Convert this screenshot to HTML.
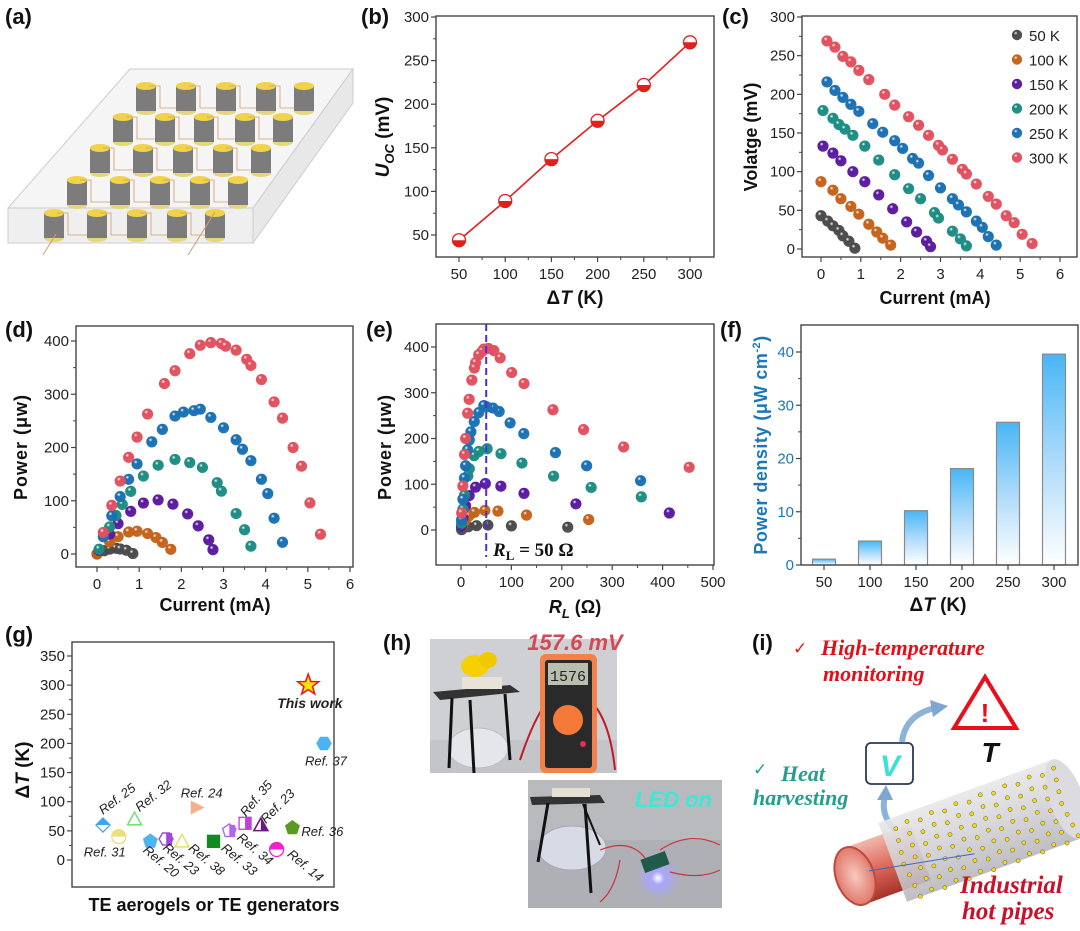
<!DOCTYPE html>
<html><head><meta charset="utf-8"><style>
html,body{margin:0;padding:0;background:#fff;}
svg{display:block;font-family:"Liberation Sans",Arial,sans-serif;}
</style></head><body>
<svg id="fig" width="1080" height="931" viewBox="0 0 1080 931" xmlns="http://www.w3.org/2000/svg">
<defs id="defs">
<linearGradient id="barGrad" x1="0" y1="0" x2="0" y2="1"><stop offset="0" stop-color="#48b6f6"/><stop offset="0.55" stop-color="#b5defa"/><stop offset="1" stop-color="#ffffff"/></linearGradient>
<linearGradient id="pipeGrad" x1="0" y1="0" x2="0" y2="1"><stop offset="0" stop-color="#f3b7ad"/><stop offset="0.5" stop-color="#dd6a5c"/><stop offset="1" stop-color="#a8322a"/></linearGradient>
<radialGradient id="pipeEnd" cx="0.5" cy="0.5" r="0.5"><stop offset="0" stop-color="#f7c9c0"/><stop offset="1" stop-color="#e07a6c"/></radialGradient>
<linearGradient id="sleeveGrad" x1="0" y1="0" x2="0" y2="1"><stop offset="0" stop-color="#e8e8ea"/><stop offset="0.5" stop-color="#d2d2d6"/><stop offset="1" stop-color="#b8b8bc"/></linearGradient>
<radialGradient id="ledGlow" cx="0.5" cy="0.5" r="0.5"><stop offset="0" stop-color="#ffffff"/><stop offset="0.3" stop-color="#a9a4ff"/><stop offset="1" stop-color="#a9a4ff" stop-opacity="0"/></radialGradient>
</defs>
</svg>
<script>
// ---------- DATA ----------
const bDeltaT = [50,100,150,200,250,300];
const bUoc = [44,89,137,181,222,271];
const bXTicks = [50,100,150,200,250,300];
const bYTicks = [50,100,150,200,250,300];

const seriesLabels = ['50 K','100 K','150 K','200 K','250 K','300 K'];
const cur50 = [0,0.17,0.3,0.45,0.55,0.7,0.85];
const volt50 = [43,36,30,24,17,10,1];
const cur100 = [0,0.3,0.5,0.75,0.95,1.2,1.4,1.55,1.75];
const volt100 = [87,76,65,55,45,32,22,14,5];
const cur150 = [0.05,0.3,0.5,0.8,1.1,1.45,1.8,2.15,2.4,2.65,2.75];
const volt150 = [133,124,114,100,87,70,52,35,22,10,3];
const cur200 = [0.05,0.3,0.45,0.6,0.8,1.1,1.45,1.85,2.2,2.5,2.85,2.95,3.3,3.5,3.65];
const volt200 = [179,169,161,155,147,133,115,96,78,65,47,40,23,13,4];
const cur250 = [0.15,0.35,0.55,0.75,0.95,1.3,1.55,1.85,2.05,2.3,2.45,2.7,3.0,3.3,3.45,3.65,3.9,4.05,4.2,4.4];
const volt250 = [216,205,196,187,178,162,151,140,130,117,111,95,79,65,57,48,36,28,16,5];
const cur300 = [0.15,0.35,0.55,0.75,0.95,1.2,1.6,1.85,2.2,2.45,2.7,2.95,3.05,3.3,3.55,3.65,3.9,4.2,4.4,4.65,4.85,5.05,5.3];
const volt300 = [269,261,249,242,231,219,200,186,171,160,147,134,128,116,103,97,84,68,58,43,34,19,7];
const cXTicks = [0,1,2,3,4,5,6];
const cYTicks = [0,50,100,150,200,250,300];
const dXTicks = [0,1,2,3,4,5,6];
const dYTicks = [0,100,200,300,400];
const eXTicks = [0,100,200,300,400,500];
const eYTicks = [0,100,200,300,400];
const eOptimalR = 50;

const fDeltaT = [50,100,150,200,250,300];
const fDensity = [1.1,4.5,10.2,18.1,26.8,39.6];
const fXTicks = [50,100,150,200,250,300];
const fYTicks = [0,10,20,30,40];

const gRefs = ['Ref. 25','Ref. 31','Ref. 32','Ref. 20','Ref. 23','Ref. 38','Ref. 24','Ref. 33','Ref. 34','Ref. 35','Ref. 23','Ref. 14','Ref. 36','This work','Ref. 37'];
const gDeltaT = [60,40,70,32,36,32,90,32,50,63,60,18,55,300,200];
const gYTicks = [0,50,100,150,200,250,300,350];

// ---------- STYLE ----------
const seriesColors = ['#4a4a4a','#c4621a','#5a1a9e','#1c8c82','#1a70b2','#e0505e'];
const gShapes = ['diamond','circle','triangle','pentagon','hexagon','triangle','rtri','square','pentagon','square','triangle','circle','pentagon','star','hexagon'];
const gColors = ['#3aa6ef','#e8e07a','#7be07b','#4cb4f0','#9b49e0','#e8e07a','#f4b08a','#138a20','#b066f0','#c040d8','#6a1a80','#f020d0','#5a9a22','#ff2020','#4cb4f0'];
// label: [dx, dy, rotation]
const gLabelPos = [[0,-10,-37],[-35,20,0],[5,-7,-38],[-8,10,40],[-4,10,40],[6,8,40],[-17,-10,0],[7,8,40],[7,8,40],[1,-6,-50],[5,-1,-45],[10,6,40],[9,8,0],[-31,23,0],[-19,22,0]];

const NS='http://www.w3.org/2000/svg';
const svg=document.getElementById('fig');
const defs=document.getElementById('defs');
function mk(tag,attrs,parent){const e=document.createElementNS(NS,tag);for(const k in attrs)e.setAttribute(k,attrs[k]);(parent||svg).appendChild(e);return e;}
function lin(d0,d1,p0,p1){return v=>p0+(v-d0)*(p1-p0)/(d1-d0);}
function txt(s,x,y,attrs,parent){const t=mk('text',Object.assign({x:x,y:y},attrs),parent);t.textContent=s;return t;}

seriesColors.forEach((c,i)=>{
  const g=mk('radialGradient',{id:'ball'+i,cx:'0.38',cy:'0.32',r:'0.7'},defs);
  mk('stop',{offset:'0','stop-color':'#ffffff'},g);
  mk('stop',{offset:'0.25','stop-color':c},g);
  mk('stop',{offset:'1','stop-color':c,'stop-opacity':'0.95'},g);
});

function panelLabel(s,x,y){
  const t=txt(s,x,y,{'font-size':22,'font-weight':'bold',fill:'#111'});
  
  
}

function axes(g,fr,xs,ys,xt,yt,xminor,yminor){
  const r=mk('rect',{x:fr.l,y:fr.t,width:fr.r-fr.l,height:fr.b-fr.t,fill:'none',stroke:'#444','stroke-width':1.4},g);
  
  
  if(xt){xt.forEach(v=>{const x=xs(v);
    mk('line',{x1:x,x2:x,y1:fr.b,y2:fr.b+5,stroke:'#444','stroke-width':1.2},g);
    const t=txt(String(v),x,fr.b+22,{'font-size':15,'text-anchor':'middle',fill:'#222'},g);
    
    
  });
  if(xminor){for(let i=0;i<xt.length-1;i++){const x=xs((xt[i]+xt[i+1])/2);mk('line',{x1:x,x2:x,y1:fr.b,y2:fr.b+3,stroke:'#444','stroke-width':1},g);}}}
  yt.forEach(v=>{const y=ys(v);
    mk('line',{x1:fr.l-5,x2:fr.l,y1:y,y2:y,stroke:'#444','stroke-width':1.2},g);
    const t=txt(String(v),fr.l-7,y+5,{'font-size':15,'text-anchor':'end',fill:g.dataset.ytickcolor||'#222'},g);
    
    
  });
  if(yminor){for(let i=0;i<yt.length-1;i++){const y=ys((yt[i]+yt[i+1])/2);mk('line',{x1:fr.l-3,x2:fr.l,y1:y,y2:y,stroke:'#444','stroke-width':1},g);}}
}

function ball(g,x,y,ci,r){return mk('circle',{cx:x,cy:y,r:r||5.6,fill:'url(#ball'+ci+')'},g);}

const curs=[cur50,cur100,cur150,cur200,cur250,cur300];
const volts=[volt50,volt100,volt150,volt200,volt250,volt300];

// ---------- (a) ----------
(function(){
  const g=mk('g',{});
  
  
  panelLabel('(a)',5,24);
  mk('polygon',{points:'130,69 353,69 253,208 8,208',fill:'#f5f5f5',stroke:'#cccccc'},g);
  mk('polygon',{points:'8,208 253,208 253,243 8,243',fill:'#efefef',stroke:'#cccccc'},g);
  mk('polygon',{points:'253,208 353,69 353,103 253,243',fill:'#e8e8e8',stroke:'#cccccc'},g);
  const rows=[[146,186,226,266,304,86],[123,165,204,245,283,117],[100,143,183,223,261,148],[77,120,160,200,238,180],[54,97,137,177,215,213]];
  rows.forEach(row=>{
    for(let i=0;i<5;i++){
      const x=row[i],y=row[5];
      const cg=mk('g',{},g);
      
      
      mk('ellipse',{cx:x,cy:y+25,rx:10,ry:4,fill:'#e6d67a'},cg);
      mk('rect',{x:x-10,y:y,width:20,height:25,fill:'#7c7c7c'},cg);
      mk('ellipse',{cx:x,cy:y,rx:10,ry:4,fill:'#f0d34a'},cg);
      if(i<4) mk('polyline',{points:`${x+3},${y} ${x+14},${y} ${x+14},${y+22} ${row[i+1]-4},${y+22}`,fill:'none',stroke:'#d79a6a','stroke-width':0.8},g);
    }
  });
  mk('line',{x1:43,y1:255,x2:56,y2:234,stroke:'#d79a6a','stroke-width':1},g);
  mk('line',{x1:188,y1:255,x2:215,y2:212,stroke:'#d79a6a','stroke-width':1},g);
})();

// ---------- (b) ----------
(function(){
  const g=mk('g',{});
  
  
  panelLabel('(b)',361,24);
  const fr={l:436,r:714,t:16,b:257};
  const xs=lin(50,300,459,690), ys=lin(50,300,235,17);
  axes(g,fr,xs,ys,bXTicks,bYTicks,true,true);
  const pts=bDeltaT.map((v,i)=>xs(v)+','+ys(bUoc[i])).join(' ');
  const ln=mk('polyline',{points:pts,fill:'none',stroke:'#e0201c','stroke-width':1.6},g);
  
  
  bDeltaT.forEach((v,i)=>{
    const x=xs(v),y=ys(bUoc[i]);
    const m=mk('g',{},g);
    
    
    mk('circle',{cx:x,cy:y,r:6.5,fill:'#fff',stroke:'#e0201c','stroke-width':1.3},m);
    mk('path',{d:`M${x-6.5},${y} A6.5,6.5 0 0 0 ${x+6.5},${y} Z`,fill:'#e0201c'},m);
  });
  const xt=txt('',575,304,{'font-size':19,'font-weight':'bold','text-anchor':'middle',fill:'#111'},g);
  xt.innerHTML='Δ<tspan font-style="italic">T</tspan> (K)';
  
  
  const yt=txt('',389,137,{'font-size':19,'font-weight':'bold','text-anchor':'middle',fill:'#111',transform:'rotate(-90 389 137)'},g);
  yt.innerHTML='<tspan font-style="italic">U</tspan><tspan font-style="italic" font-size="13" dy="5">OC</tspan><tspan dy="-5"> (mV)</tspan>';
  
  
})();

// ---------- (c) ----------
(function(){
  const g=mk('g',{});
  
  
  panelLabel('(c)',722,24);
  const fr={l:802,r:1077,t:16,b:257};
  const xs=lin(0,6,821,1060), ys=lin(0,300,249,17);
  axes(g,fr,xs,ys,cXTicks,cYTicks,true,true);
  curs.forEach((cs,si)=>{cs.forEach((c,i)=>{
    const b=ball(g,xs(c),ys(volts[si][i]),si);
    
    
  });});
  seriesLabels.forEach((s,i)=>{
    const lg=mk('g',{},g);
    
    
    ball(lg,1017,35+i*24.5,i,5.2);
    txt(s,1029,41+i*24.5,{'font-size':15,fill:'#222'},lg);
  });
  const xt=txt('Current (mA)',935,304,{'font-size':18,'font-weight':'bold','text-anchor':'middle',fill:'#111'},g);
  
  
  const yt=txt('Volatge (mV)',757,137,{'font-size':18,'font-weight':'bold','text-anchor':'middle',fill:'#111',transform:'rotate(-90 757 137)'},g);
  
  
})();

// ---------- (d) ----------
(function(){
  const g=mk('g',{});
  
  
  panelLabel('(d)',5,337);
  const fr={l:76,r:353,t:326,b:567};
  const xs=lin(0,6,97,350), ys=lin(0,400,554,341);
  axes(g,fr,xs,ys,dXTicks,dYTicks,true,true);
  curs.forEach((cs,si)=>{cs.forEach((c,i)=>{
    const p=c*volts[si][i];
    const b=ball(g,xs(c),ys(p),si);
    
    
  });});
  const xt=txt('Current (mA)',215,611,{'font-size':18,'font-weight':'bold','text-anchor':'middle',fill:'#111'},g);
  
  
  const yt=txt('Power (μw)',27,447,{'font-size':18,'font-weight':'bold','text-anchor':'middle',fill:'#111',transform:'rotate(-90 27 447)','letter-spacing':'1'},g);
  
  
})();

// ---------- (e) ----------
(function(){
  const g=mk('g',{});
  
  
  panelLabel('(e)',366,337);
  const fr={l:436,r:714,t:324,b:565};
  const xs=lin(0,500,461,713), ys=lin(0,400,530,347);
  axes(g,fr,xs,ys,eXTicks,eYTicks,true,true);
  curs.forEach((cs,si)=>{cs.forEach((c,i)=>{
    if(c<=0) return;
    const R=volts[si][i]/c, P=c*volts[si][i];
    if(R>500) return;
    const b=ball(g,xs(R),ys(P),si);
    
    
  });});
  const dl=mk('line',{x1:xs(eOptimalR),x2:xs(eOptimalR),y1:fr.t,y2:557,stroke:'#4a2ee0','stroke-width':2,'stroke-dasharray':'7,4'},g);
  
  
  const an=txt('',493,556,{'font-size':19,'font-weight':'bold','font-family':'"Liberation Serif",serif',fill:'#111'},g);
  an.innerHTML='<tspan font-style="italic">R</tspan><tspan font-size="13" dy="4">L</tspan><tspan dy="-4"> = 50 Ω</tspan>';
  
  
  const xt=txt('',575,613,{'font-size':18,'font-weight':'bold','text-anchor':'middle',fill:'#111'},g);
  xt.innerHTML='<tspan font-style="italic">R</tspan><tspan font-style="italic" font-size="13" dy="5">L</tspan><tspan dy="-5"> (Ω)</tspan>';
  
  
  const yt=txt('Power (μw)',391,447,{'font-size':18,'font-weight':'bold','text-anchor':'middle',fill:'#111',transform:'rotate(-90 391 447)','letter-spacing':'1'},g);
  
  
})();

// ---------- (f) ----------
(function(){
  const g=mk('g',{});
  
  
  g.dataset.ytickcolor='#1a78b8';
  panelLabel('(f)',720,337);
  const fr={l:801,r:1078,t:325,b:565};
  const xs=lin(50,300,824,1054), ys=lin(0,40,565,352);
  fDeltaT.forEach((v,i)=>{
    const x=xs(v), y=ys(fDensity[i]);
    const b=mk('rect',{x:x-11.5,y:y,width:23,height:fr.b-y,fill:'url(#barGrad)',stroke:'#8a8a8a','stroke-width':1.2},g);
    
    
  });
  axes(g,fr,xs,ys,fXTicks,fYTicks,false,true);
  const xt=txt('',938,611,{'font-size':19,'font-weight':'bold','text-anchor':'middle',fill:'#111'},g);
  xt.innerHTML='Δ<tspan font-style="italic">T</tspan> (K)';
  
  
  const yt=txt('',767,445,{'font-size':18,'font-weight':'bold','text-anchor':'middle',fill:'#1a78b8',transform:'rotate(-90 767 445)','letter-spacing':'0.5'},g);
  yt.innerHTML='Power density (μW cm<tspan font-size="11" dy="-7">-2</tspan><tspan dy="7">)</tspan>';
  
  
})();

// ---------- (g) ----------
function shape(g,type,x,y,c){
  const s=7;
  let e;
  if(type==='circle'){e=mk('g',{},g);mk('circle',{cx:x,cy:y,r:s,fill:'#fff',stroke:c,'stroke-width':1.3},e);mk('path',{d:`M${x-s},${y} A${s},${s} 0 0 1 ${x+s},${y} Z`,fill:c},e);}
  else if(type==='diamond'){e=mk('g',{},g);mk('polygon',{points:`${x},${y-s} ${x+s},${y} ${x},${y+s} ${x-s},${y}`,fill:'#fff',stroke:c,'stroke-width':1.3},e);mk('polygon',{points:`${x},${y-s} ${x+s},${y} ${x-s},${y}`,fill:c},e);}
  else if(type==='triangle'){e=mk('polygon',{points:`${x},${y-s} ${x+s},${y+s*0.8} ${x-s},${y+s*0.8}`,fill:'#fff',stroke:c,'stroke-width':1.6},g);if(c==='#6a1a80')mk('polygon',{points:`${x},${y-s} ${x+s},${y+s*0.8} ${x},${y+s*0.8}`,fill:c},g);}
  else if(type==='rtri'){e=mk('polygon',{points:`${x-s},${y-s} ${x+s},${y} ${x-s},${y+s}`,fill:c},g);}
  else if(type==='square'){e=mk('rect',{x:x-s+1,y:y-s+1,width:2*s-2,height:2*s-2,fill:c==='#138a20'?c:'#fff',stroke:c,'stroke-width':1.3},g);if(c!=='#138a20')mk('rect',{x:x,y:y-s+1,width:s-1,height:2*s-2,fill:c},g);}
  else if(type==='pentagon'||type==='hexagon'){const n=type==='pentagon'?5:6;let p=[];for(let k=0;k<n;k++){const a=-Math.PI/2+k*2*Math.PI/n+(n===6?Math.PI/6:0);p.push((x+s*Math.cos(a)).toFixed(1)+','+(y+s*Math.sin(a)).toFixed(1));}e=mk('polygon',{points:p.join(' '),fill:(c==='#5a9a22'||c==='#4cb4f0')?c:'#fff',stroke:c,'stroke-width':1.4},g);if(c==='#9b49e0'||c==='#b066f0')mk('rect',{x:x,y:y-s+1,width:s-1,height:2*s-2,fill:c},g);}
  else if(type==='star'){let p=[];for(let k=0;k<10;k++){const r=k%2?4.5:11;const a=-Math.PI/2+k*Math.PI/5;p.push((x+r*Math.cos(a)).toFixed(1)+','+(y+r*Math.sin(a)).toFixed(1));}e=mk('polygon',{points:p.join(' '),fill:'#ffe000',stroke:'#e02020','stroke-width':1.6},g);}
  return e;
}
(function(){
  const g=mk('g',{});
  
  
  panelLabel('(g)',5,642);
  const fr={l:72,r:334,t:642,b:887};
  const xs=lin(0,gRefs.length-1,103,324), ys=lin(0,350,860,656);
  axes(g,fr,xs,ys,null,gYTicks,false,true);
  gRefs.forEach((r,i)=>{
    const x=xs(i), y=ys(gDeltaT[i]);
    const m=shape(g,gShapes[i],x,y,gColors[i]);
    
    
    const lp=gLabelPos[i];
    const lx=x+lp[0], ly=y+lp[1];
    const t=txt(r,lx,ly,{'font-size':r==='This work'?14:13,'font-style':'italic','font-weight':r==='This work'?'bold':'normal',fill:'#222',transform:lp[2]?`rotate(${lp[2]} ${lx} ${ly})`:''},g);
    
    
  });
  const xt=txt('TE aerogels or TE generators',214,911,{'font-size':18,'font-weight':'bold','text-anchor':'middle',fill:'#111'},g);
  
  
  const yt=txt('',29,770,{'font-size':19,'font-weight':'bold','text-anchor':'middle',fill:'#111',transform:'rotate(-90 29 770)'},g);
  yt.innerHTML='Δ<tspan font-style="italic">T</tspan> (K)';
  
  
})();

// ---------- (h) ----------
(function(){
  const g=mk('g',{});
  
  
  panelLabel('(h)',383,650);
  const p1=mk('g',{},g);
  
  
  mk('rect',{x:430,y:639,width:187,height:134,fill:'#cfd0d3'},p1);
  mk('rect',{x:430,y:740,width:187,height:33,fill:'#c4c5c8'},p1);
  mk('ellipse',{cx:478,cy:748,rx:30,ry:20,fill:'#e4e6ea',stroke:'#b9bcc2'},p1);
  mk('polygon',{points:'433,692 510,685 520,692 440,700',fill:'#333'},p1);
  mk('line',{x1:452,y1:698,x2:449,y2:768,stroke:'#111','stroke-width':3},p1);
  mk('line',{x1:470,y1:700,x2:474,y2:773,stroke:'#111','stroke-width':3},p1);
  mk('line',{x1:505,y1:694,x2:510,y2:760,stroke:'#111','stroke-width':3},p1);
  mk('rect',{x:462,y:677,width:40,height:12,fill:'#e8e2d8'},p1);
  mk('ellipse',{cx:475,cy:666,rx:14,ry:11,fill:'#f6d000'},p1);
  mk('ellipse',{cx:488,cy:660,rx:9,ry:8,fill:'#f1c800'},p1);
  mk('path',{d:'M520,760 Q540,700 560,690 M590,700 Q610,720 615,770',fill:'none',stroke:'#c01a2a','stroke-width':2},p1);
  mk('rect',{x:540,y:654,width:57,height:119,rx:6,fill:'#f2824a'},p1);
  mk('rect',{x:545,y:660,width:47,height:108,rx:3,fill:'#2a2a2a'},p1);
  mk('rect',{x:548,y:663,width:40,height:22,fill:'#b9bfaf'},p1);
  txt('1576',568,681,{'font-size':15,'text-anchor':'middle',fill:'#222','font-family':'"Liberation Mono",monospace'},p1);
  mk('circle',{cx:568,cy:720,r:15,fill:'#f47a3a'},p1);
  mk('circle',{cx:583,cy:744,r:3,fill:'#e0304a'},p1);
  const v=txt('157.6 mV',575,650,{'font-size':22,'font-weight':'bold','font-style':'italic','text-anchor':'middle',fill:'#d24a58'},g);
  
  
  const p2=mk('g',{},g);
  
  
  mk('rect',{x:528,y:780,width:194,height:128,fill:'#b8babe'},p2);
  mk('rect',{x:528,y:840,width:194,height:68,fill:'#aeb0b6'},p2);
  mk('ellipse',{cx:572,cy:848,rx:34,ry:22,fill:'#d8dbe6',stroke:'#a5a9b8'},p2);
  mk('polygon',{points:'530,797 600,795 605,803 532,805',fill:'#333'},p2);
  mk('rect',{x:552,y:788,width:38,height:9,fill:'#e6e0d4'},p2);
  mk('line',{x1:548,y1:803,x2:538,y2:862,stroke:'#111','stroke-width':3},p2);
  mk('line',{x1:585,y1:804,x2:591,y2:893,stroke:'#111','stroke-width':3},p2);
  mk('line',{x1:583,y1:804,x2:600,y2:845,stroke:'#111','stroke-width':2},p2);
  mk('circle',{cx:658,cy:878,r:22,fill:'url(#ledGlow)'},p2);
  mk('rect',{x:642,y:855,width:26,height:14,fill:'#1f5a4a',transform:'rotate(-20 655 862)'},p2);
  mk('path',{d:'M600,850 Q630,838 645,858 M660,850 Q690,830 720,845 M620,860 Q615,890 600,902 M670,872 Q700,880 720,870',fill:'none',stroke:'#d0303a','stroke-width':1.2},p2);
  const l=txt('LED on',635,807,{'font-size':22,'font-weight':'bold','font-style':'italic',fill:'#3de8d8'},g);
  
  
})();

// ---------- (i) ----------
(function(){
  const g=mk('g',{});
  
  
  panelLabel('(i)',752,650);
  const serif='"Liberation Serif",serif';
  const c1=txt('✓',793,654,{'font-size':17,fill:'#e01a1a'},g);
  
  
  const h1=txt('High-temperature',821,655,{'font-size':22,'font-weight':'bold','font-style':'italic','font-family':serif,fill:'#e0101a'},g);
  
  
  txt('monitoring',823,681,{'font-size':22,'font-weight':'bold','font-style':'italic','font-family':serif,fill:'#e0101a'},g);
  const tri=mk('polygon',{points:'985,677 954,728 1016,728',fill:'#fff',stroke:'#e8101a','stroke-width':4,'stroke-linejoin':'miter'},g);
  
  
  txt('!',985,722,{'font-size':26,'font-weight':'bold','text-anchor':'middle',fill:'#e8101a'},g);
  const T=txt('T',990,762,{'font-size':28,'font-weight':'bold','font-style':'italic','text-anchor':'middle',fill:'#111'},g);
  
  
  const vb=mk('rect',{x:866,y:743,width:47,height:41,rx:5,fill:'#fff',stroke:'#2a3a5c','stroke-width':1.8},g);
  
  
  txt('V',890,776,{'font-size':30,'font-weight':'bold','font-style':'italic','text-anchor':'middle',fill:'#3ee0d6'},g);
  const c2=txt('✓',753,775,{'font-size':17,fill:'#21a08e'},g);
  
  
  const h2=txt('Heat',781,781,{'font-size':22,'font-weight':'bold','font-style':'italic','font-family':serif,fill:'#21a08e'},g);
  
  
  txt('harvesting',753,805,{'font-size':22,'font-weight':'bold','font-style':'italic','font-family':serif,fill:'#21a08e'},g);
  mk('path',{d:'M902,742 Q905,715 935,708',fill:'none',stroke:'#8fb3d8','stroke-width':6},g);
  mk('polygon',{points:'930,700 948,706 933,717',fill:'#7fa6d0'},g);
  mk('path',{d:'M895,830 Q880,815 885,796',fill:'none',stroke:'#8fb3d8','stroke-width':6},g);
  mk('polygon',{points:'877,800 886,785 893,800',fill:'#7fa6d0'},g);
  const pg=mk('g',{transform:'translate(855,876) rotate(-20)'},g);
  
  
  mk('rect',{x:0,y:-30,width:70,height:60,fill:'url(#pipeGrad)'},pg);
  mk('rect',{x:40,y:-42,width:185,height:84,fill:'url(#sleeveGrad)',opacity:0.9},pg);
  mk('ellipse',{cx:225,cy:0,rx:17,ry:42,fill:'#dcdce0'},pg);
  for(let cx=50;cx<=225;cx+=13){for(let k=-3;k<=3;k++){const yy=k*12+((cx/13)%2)*3;mk('circle',{cx:cx+Math.abs(k)*1.5,cy:yy,r:2,fill:'#f5dc10',stroke:'#444','stroke-width':0.4},pg);}}
  mk('ellipse',{cx:0,cy:0,rx:19,ry:30,fill:'url(#pipeEnd)',stroke:'#c0483c','stroke-width':2},pg);
  mk('line',{x1:15,y1:0,x2:120,y2:20,stroke:'#3a6ac0','stroke-width':1},pg);
  const i1=txt('Industrial',960,893,{'font-size':25,'font-weight':'bold','font-style':'italic','font-family':serif,fill:'#c8102a'},g);
  
  
  txt('hot pipes',962,919,{'font-size':25,'font-weight':'bold','font-style':'italic','font-family':serif,fill:'#c8102a'},g);
})();
</script>
</body></html>
